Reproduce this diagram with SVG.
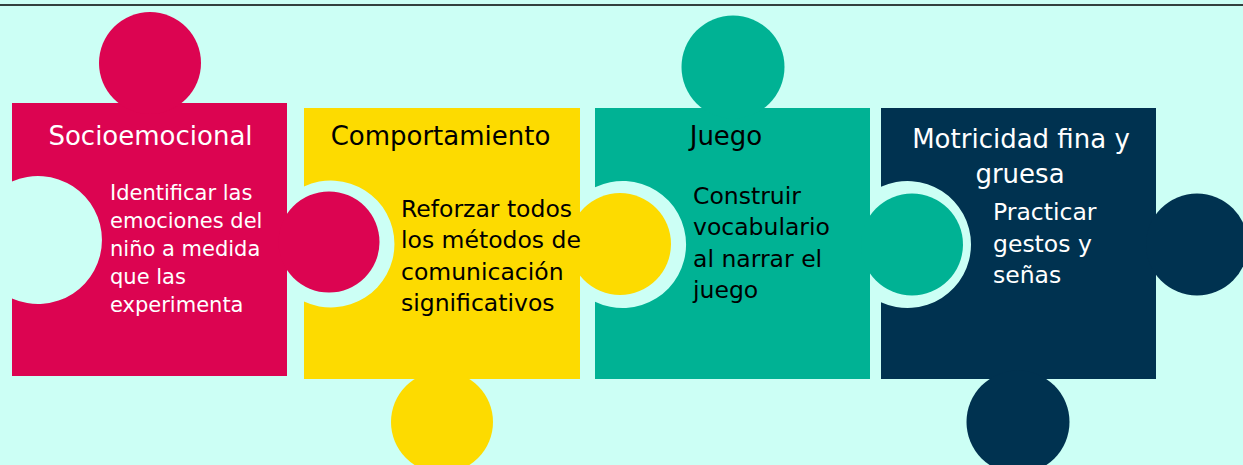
<svg xmlns="http://www.w3.org/2000/svg" width="1243" height="465" viewBox="0 0 1243 465">
<style>
.bg{fill:#CCFFF5}
.red{fill:#DC0451}
.yel{fill:#FDDB00}
.grn{fill:#00B294}
.nav{fill:#003250}
text{font-family:"DejaVu Sans","Verdana","Liberation Sans",sans-serif}
.title{font-size:26px}
.body{font-size:23.5px}
.small{font-size:21px}
.w{fill:#FFFFFF}
.k{fill:#000000}
.mid{text-anchor:middle}
</style>
<rect class="bg" x="0" y="0" width="1243" height="465"/>
<line x1="0" y1="5" x2="1243" y2="5" stroke="#000" stroke-width="1.5"/>
<g id="connectors"></g>
<g id="socioemocional">
  <path class="red" d="M12,103 H287 V376 H12 V298.5 A64,64 0 1 0 12,181.5 Z"/>
  <circle class="red" cx="150" cy="63" r="51"/>
  <circle class="red" cx="329" cy="242" r="50.5"/>
  <text class="title w mid" x="150.5" y="145">Socioemocional</text>
  <text class="small w" x="110" y="200">Identificar las</text>
  <text class="small w" x="110" y="228">emociones del</text>
  <text class="small w" x="110" y="256">niño a medida</text>
  <text class="small w" x="110" y="284">que las</text>
  <text class="small w" x="110" y="312">experimenta</text>
</g>
<g id="comportamiento">
  <path class="yel" d="M304,108 H580 V379 H304 V301.5 A63.5,63.5 0 1 0 304,186.5 Z"/>
  <circle class="yel" cx="620" cy="244" r="51"/>
  <circle class="yel" cx="442" cy="422" r="51"/>
  <text class="title k mid" x="440.5" y="144.5">Comportamiento</text>
  <text class="body k" x="401" y="216.5">Reforzar todos</text>
  <text class="body k" x="401" y="248">los métodos de</text>
  <text class="body k" x="401" y="279.5">comunicación</text>
  <text class="body k" x="401" y="311">significativos</text>
</g>
<g id="juego">
  <path class="grn" d="M595,108 H870 V379 H595 V301.7 A63.5,63.5 0 1 0 595,187.3 Z"/>
  <circle class="grn" cx="733" cy="67" r="51.5"/>
  <circle class="grn" cx="912" cy="244.5" r="51"/>
  <text class="title k mid" x="726" y="145">Juego</text>
  <text class="body k" x="693" y="203.5">Construir</text>
  <text class="body k" x="693" y="235">vocabulario</text>
  <text class="body k" x="693" y="266.5">al narrar el</text>
  <text class="body k" x="693" y="298">juego</text>
</g>
<g id="motricidad">
  <path class="nav" d="M881,108 H1156 V379 H881 V302.2 A63.5,63.5 0 1 0 881,186.8 Z"/>
  <circle class="nav" cx="1197" cy="244.5" r="51"/>
  <circle class="nav" cx="1018" cy="422" r="51.5"/>
  <text class="title w mid" x="1021" y="148">Motricidad fina y</text>
  <text class="title w mid" x="1020" y="183">gruesa</text>
  <text class="body w" x="993" y="220">Practicar</text>
  <text class="body w" x="993" y="251.5">gestos y</text>
  <text class="body w" x="993" y="283">señas</text>
</g>
</svg>
